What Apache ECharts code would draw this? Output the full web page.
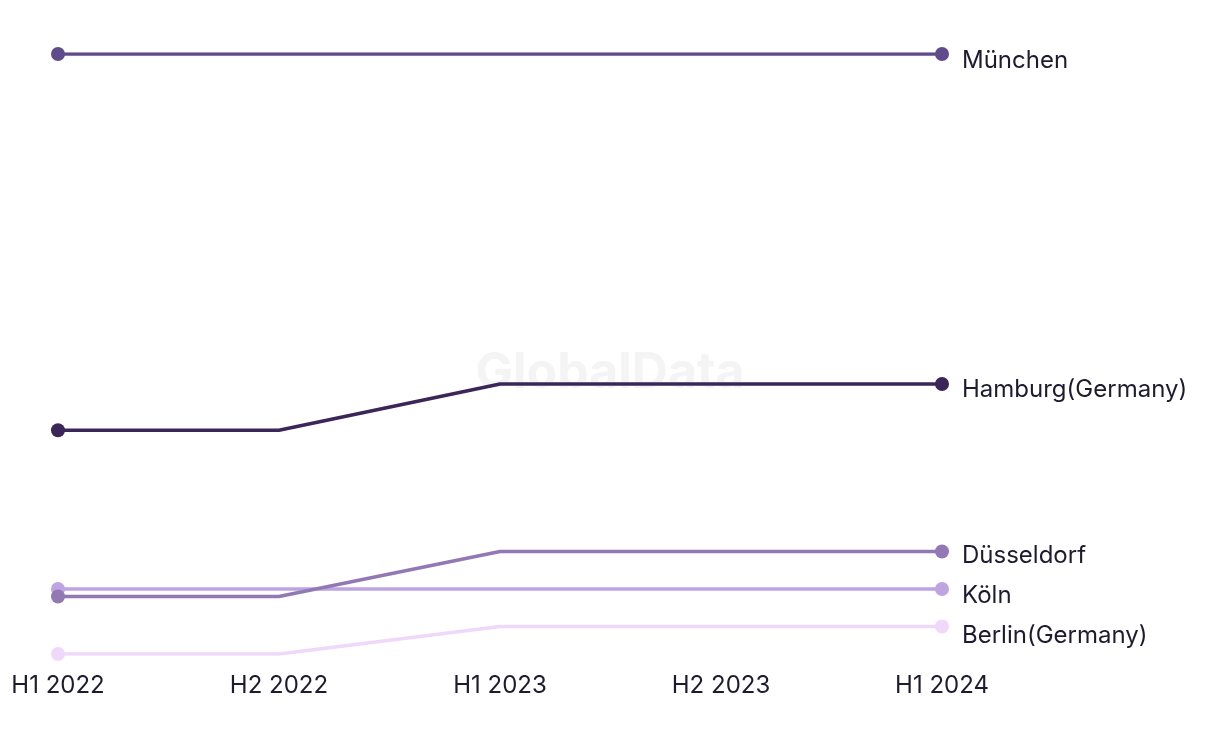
<!DOCTYPE html>
<html>
<head>
<meta charset="utf-8">
<script src="https://cdn.jsdelivr.net/npm/echarts@6/dist/echarts.min.js"></script>
<style>
html,body{margin:0;padding:0;background:#fff;}
#chart{width:1220px;height:744px;}
</style>
</head>
<body>
<div id="chart"></div>
<script>
const categories = ['H1 2022', 'H2 2022', 'H1 2023', 'H2 2023', 'H1 2024'];
const seriesNames = ['München', 'Hamburg(Germany)', 'Düsseldorf', 'Köln', 'Berlin(Germany)'];
const muenchen = [30.0, 30.0, 30.0, 30.0, 30.0];
const hamburg = [14.95, 14.95, 16.8, 16.8, 16.8];
const duesseldorf = [8.3, 8.3, 10.1, 10.1, 10.1];
const koeln = [8.6, 8.6, 8.6, 8.6, 8.6];
const berlin = [6.0, 6.0, 7.1, 7.1, 7.1];
const seriesData = [muenchen, hamburg, duesseldorf, koeln, berlin];
const colors = ['#5f4b8b', '#3b2559', '#9379b4', '#bea5e1', '#efd8fa'];
const labelShift = [7, 6, 4, 7, 9];

const chart = echarts.init(document.getElementById('chart'));
const font = 'Inter, "Noto Sans", sans-serif';

const series = seriesNames.map((name, i) => ({
  name: name,
  type: 'line',
  data: seriesData[i].map((v, j) => ({
    value: v,
    symbol: (j === 0 || j === categories.length - 1) ? 'circle' : 'none'
  })),
  symbolSize: 14,
  showAllSymbol: true,
  lineStyle: { width: 3.5, color: colors[i] },
  itemStyle: { color: colors[i] },
  endLabel: {
    show: true,
    formatter: '{a}',
    color: '#1d1b2f',
    fontFamily: font,
    fontSize: 24,
    distance: 20,
    offset: [0, labelShift[i]]
  },
  emphasis: { disabled: true },
  animation: false,
  z: 5 - i
}));

chart.setOption({
  animation: false,
  backgroundColor: '#ffffff',
  graphic: [{
    type: 'text',
    left: 'center',
    top: 348,
    z: -10,
    style: {
      text: 'GlobalData',
      fontFamily: font,
      fontWeight: 'bold',
      fontSize: 50,
      fill: '#f4f4f4'
    }
  }],
  grid: { left: 58, right: 278, top: 54, bottom: 90, containLabel: false },
  xAxis: {
    type: 'category',
    data: categories,
    boundaryGap: false,
    axisLine: { show: false },
    axisTick: { show: false },
    splitLine: { show: false },
    axisLabel: {
      color: '#1d1b2f',
      fontFamily: font,
      fontSize: 24,
      margin: 20
    }
  },
  yAxis: {
    type: 'value',
    min: 6,
    max: 30,
    show: false
  },
  series: series
});
</script>
</body>
</html>
